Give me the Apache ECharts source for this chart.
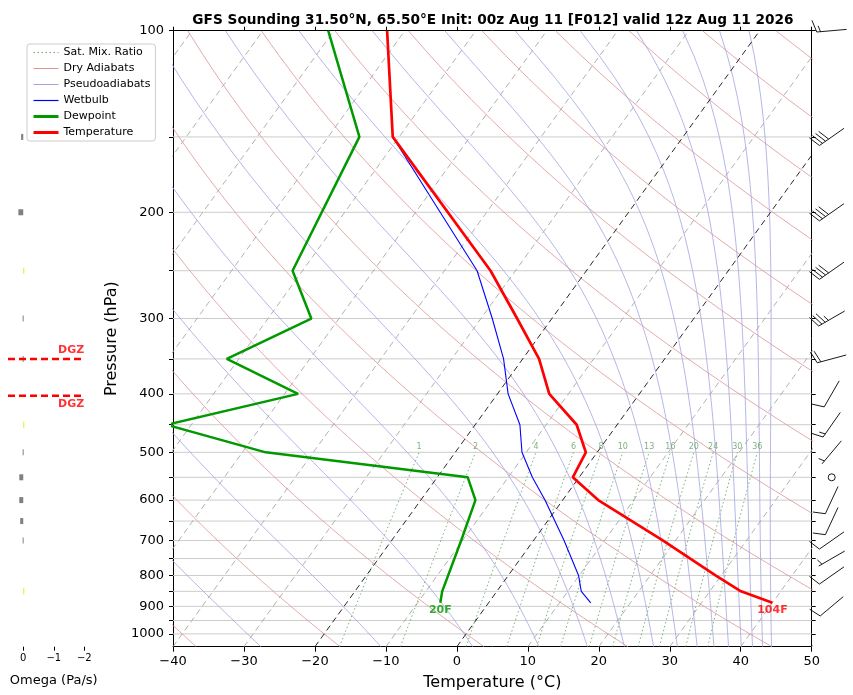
<!DOCTYPE html>
<html>
<head>
<meta charset="utf-8">
<script src="https://cdn.jsdelivr.net/npm/echarts@6/dist/echarts.min.js"></script>
<style>
html, body { margin: 0; padding: 0; background: #fff; }
#chart { width: 853px; height: 695px; }
</style>
</head>
<body>
<div id="chart"></div>
<script>
// sounding values
var tempLevels = [100, 150, 250, 300, 350, 400, 450, 500, 550, 600, 700, 800, 850, 888];
var temp = [-72.5, -60.9, -33.5, -24.9, -17.7, -12.7, -5.7, -1.6, -0.9, 5.0, 18.2, 29.2, 34.4, 40.0];
var dewLevels = [100, 150, 250, 300, 350, 400, 450, 500, 550, 600, 700, 850, 888];
var dew = [-80.8, -65.6, -61.4, -53.9, -61.7, -48.1, -63.5, -46.7, -15.7, -12.3, -10.2, -7.7, -6.8];
var wetLevels = [150, 250, 300, 350, 400, 450, 500, 550, 600, 700, 800, 850, 888];
var wet = [-60.9, -35.4, -28.4, -22.7, -18.5, -13.7, -10.6, -6.6, -2.5, 4.3, 9.9, 11.9, 14.4];

// wind (kt, direction from)
var windLevels = [100, 150, 200, 250, 300, 350, 400, 450, 500, 550, 600, 650, 700, 750, 800, 900];
var windSpd = [15, 40, 40, 40, 35, 20, 10, 15, 5, 0, 10, 10, 10, 5, 10, 10];
var windDir = [265, 235, 235, 235, 240, 255, 210, 215, 220, 0, 205, 205, 235, 240, 235, 230];

// omega (Pa/s)
var omegaLevels = [150, 200, 250, 300, 350, 450, 500, 550, 600, 650, 700, 850];
var omega = [0.07, 0.16, -0.01, 0.02, 0.02, -0.01, 0.02, 0.13, 0.13, 0.1, 0.02, -0.01];
var dgzLevels = [350, 403];

// background line sets
var isoTemps = [-100, -90, -80, -70, -60, -50, -40, -30, -10, 10, 20, 30, 40, 50];
var markTemps = [-20, 0];
var dryThetas = [-40, -20, 0, 20, 40, 60, 80, 100, 120, 140, 160, 180, 200, 220, 240];
var moistThetaE = [-30, -10, 10, 30, 50, 70, 90, 110, 130, 150, 170, 190, 210, 230, 250];
var mixRatios = [1, 2, 4, 6, 8, 10, 13, 16, 20, 24, 30, 36];
var isobars = [150, 200, 250, 300, 350, 400, 450, 500, 550, 600, 650, 700, 750, 800, 850, 900, 950, 1000];
var pLabels = [100, 200, 300, 400, 500, 600, 700, 800, 900, 1000];

var PBOT = 1050, PTOP = 100;
var G = { left: 173, top: 30.7, width: 638.7, height: 616 };
var S = 0.722 * (G.height / Math.log10(PBOT / PTOP)) / (G.width / 90);

function ly(p) { return Math.log10(p); }
function sx(t, p) { return t + S * Math.log10(PBOT / p); }
function minus(v) { return v < 0 ? '\u2212' + (-v) : '' + v; }

var plist = [];
for (var pp = PBOT; pp >= PTOP; pp -= 10) plist.push(pp);

function thetaE(tc, p) {
    var tk = tc + 273.15;
    var es = 6.112 * Math.exp(17.67 * tc / (tc + 243.5));
    if (es > 0.5 * p) return 1e9;
    var r = 622 * es / (p - es);
    return tk * Math.pow(1000 / p, 0.2854 * (1 - 0.00028 * r)) * Math.exp((3.376 / tk - 0.00254) * r * (1 + 0.00081 * r));
}
function moistT(te, p) {
    var lo = -150, hi = 60;
    if (thetaE(hi, p) < te) return null;
    for (var k = 0; k < 50; k++) {
        var mid = (lo + hi) / 2;
        if (thetaE(mid, p) < te) lo = mid; else hi = mid;
    }
    return (lo + hi) / 2;
}
function mixTd(w, p) {
    var e = p * w / (622 + w);
    var g = Math.log(e / 6.112);
    return 243.5 * g / (17.67 - g);
}

var series = [];
function addLine(name, pts, ls, z) {
    series.push({ type: 'line', name: name, data: pts, symbol: 'none', lineStyle: ls, z: z,
        itemStyle: { color: ls.color }, silent: true, clip: true, xAxisIndex: 0, yAxisIndex: 0 });
}

isobars.forEach(function (p) {
    addLine('', [[-40, ly(p)], [50, ly(p)]], { color: '#cccccc', width: 1 }, 1);
});
isoTemps.forEach(function (t) {
    addLine('', [[sx(t, PBOT), ly(PBOT)], [sx(t, PTOP), ly(PTOP)]], { color: '#a8a8a8', width: 0.9, type: [6, 4] }, 2);
});
markTemps.forEach(function (t) {
    addLine('', [[sx(t, PBOT), ly(PBOT)], [sx(t, PTOP), ly(PTOP)]], { color: '#111111', width: 0.9, type: [6, 4] }, 3);
});
mixRatios.forEach(function (w) {
    var pts = [];
    plist.forEach(function (p) { if (p >= 500) pts.push([sx(mixTd(w, p), p), ly(p)]); });
    addLine('Sat. Mix. Ratio', pts, { color: '#4f9a4f', width: 0.9, type: [1.5, 2.5], opacity: 0.85 }, 2);
});
dryThetas.forEach(function (th) {
    var pts = plist.map(function (p) {
        return [sx((th + 273.15) * Math.pow(p / 1000, 0.2857) - 273.15, p), ly(p)];
    });
    addLine('Dry Adiabats', pts, { color: '#dd9494', width: 0.8 }, 2);
});
moistThetaE.forEach(function (te) {
    var pts = [];
    plist.forEach(function (p) {
        var t = moistT(te + 273.15, p);
        if (t !== null) pts.push([sx(t, p), ly(p)]);
    });
    addLine('Pseudoadiabats', pts, { color: '#a3a3e0', width: 0.8 }, 2);
});

addLine('Wetbulb', wetLevels.map(function (p, i) { return [sx(wet[i], p), ly(p)]; }),
    { color: '#0000ff', width: 1.1 }, 6);
addLine('Dewpoint', dewLevels.map(function (p, i) { return [sx(dew[i], p), ly(p)]; }),
    { color: '#009900', width: 2.5 }, 7);
addLine('Temperature', tempLevels.map(function (p, i) { return [sx(temp[i], p), ly(p)]; }),
    { color: '#ff0000', width: 2.7 }, 8);

// mixing ratio labels
series.push({
    type: 'scatter', symbolSize: 0, silent: true, z: 4,
    data: mixRatios.map(function (w) { return [sx(mixTd(w, 500), 500), ly(500), w]; }),
    label: { show: true, position: 'top', distance: 1, color: '#5c9e5c', fontSize: 8,
        formatter: function (p) { return p.value[2]; } }
});

// surface labels in F
var nT = temp.length - 1, nD = dew.length - 1;
function toF(c) { return Math.round(c * 9 / 5 + 32) + 'F'; }
series.push({
    type: 'scatter', symbolSize: 0, silent: true, z: 9,
    data: [
        { value: [sx(temp[nT], tempLevels[nT]), ly(tempLevels[nT])], label: { color: '#ff0000', formatter: toF(temp[nT]) } },
        { value: [sx(dew[nD], dewLevels[nD]), ly(dewLevels[nD])], label: { color: '#009900', formatter: toF(dew[nD]) } }
    ],
    label: { show: true, position: 'bottom', distance: 2, fontSize: 11, fontWeight: 'bold' }
});

// wind barbs
function barb(params, api) {
    var pt = api.coord([api.value(0), api.value(1)]);
    var cx = pt[0] + 20, cy = pt[1];
    var spd = api.value(2), dir = api.value(3);
    var st = { stroke: '#000', lineWidth: 0.9, fill: null };
    if (spd < 2.5) {
        return { type: 'circle', shape: { cx: cx, cy: cy, r: 3.5 }, style: st };
    }
    var L = 30, a = dir * Math.PI / 180;
    var ux = Math.sin(a), uy = -Math.cos(a), px = Math.cos(a), py = Math.sin(a);
    var ex = cx + ux * L / 2, ey = cy + uy * L / 2;
    var kids = [{ type: 'line', shape: { x1: cx - ux * L / 2, y1: cy - uy * L / 2, x2: ex, y2: ey }, style: st }];
    var n = Math.round(spd / 5) * 5;
    var flags = Math.floor(n / 50); n -= flags * 50;
    var full = Math.floor(n / 10); var half = (n - full * 10) >= 5 ? 1 : 0;
    var h = 0.4 * L, sp = 0.125 * L, d = 0;
    for (var i = 0; i < flags; i++) {
        var bx = ex - ux * d, by = ey - uy * d;
        kids.push({ type: 'polygon', shape: { points: [[bx, by], [bx + h * px - ux * 0.125 * L, by + h * py - uy * 0.125 * L], [bx - ux * 0.25 * L, by - uy * 0.25 * L]] }, style: { fill: '#000' } });
        d += 0.25 * L + sp;
    }
    for (var j = 0; j < full; j++) {
        var fx = ex - ux * d, fy = ey - uy * d;
        kids.push({ type: 'line', shape: { x1: fx, y1: fy, x2: fx + h * px + ux * 0.125 * L, y2: fy + h * py + uy * 0.125 * L }, style: st });
        d += sp;
    }
    if (half) {
        if (flags + full === 0) d = sp;
        var hx = ex - ux * d, hy = ey - uy * d;
        kids.push({ type: 'line', shape: { x1: hx, y1: hy, x2: hx + h / 2 * px + ux * 0.0625 * L, y2: hy + h / 2 * py + uy * 0.0625 * L }, style: st });
    }
    return { type: 'group', children: kids };
}
series.push({
    type: 'custom', silent: true, z: 10, clip: false,
    data: windLevels.map(function (p, i) { return [50, ly(p), windSpd[i], windDir[i]]; }),
    renderItem: barb
});

// omega panel
series.push({
    type: 'custom', silent: true, xAxisIndex: 2, yAxisIndex: 2, z: 3,
    data: omegaLevels.map(function (p, i) { return [omega[i], ly(p)]; }),
    renderItem: function (params, api) {
        var a = api.coord([0, api.value(1)]);
        var b = api.coord([api.value(0), api.value(1)]);
        var w = Math.max(Math.abs(b[0] - a[0]), 1);
        return { type: 'rect', shape: { x: Math.min(a[0], b[0]), y: a[1] - 3, width: w, height: 6 },
            style: { fill: api.value(0) >= 0 ? '#808080' : '#e8e810' } };
    }
});
dgzLevels.forEach(function (p, i) {
    series.push({ type: 'line', data: [[0.5, ly(p)], [-1.98, ly(p)]], symbol: 'none', silent: true, z: 5,
        xAxisIndex: 2, yAxisIndex: 2, lineStyle: { color: '#ff0000', width: 2.5, type: [7, 4] } });
    series.push({ type: 'scatter', symbolSize: 0, silent: true, z: 5, xAxisIndex: 2, yAxisIndex: 2,
        data: [[-1.57, ly(p)]],
        label: { show: true, formatter: 'DGZ', position: i === 0 ? 'top' : 'bottom', distance: 3,
            color: '#ff0000', fontWeight: 'bold', fontSize: 11 } });
});

var pTicks = [100].concat(isobars).map(ly);
var blackAxis = { show: true, onZero: false, lineStyle: { color: '#000', width: 1 } };
var noSym = { color: 'rgba(0,0,0,0)', opacity: 0, borderWidth: 0 };

var option = {
    animation: false,
    textStyle: { fontFamily: 'DejaVu Sans' },
    title: {
        text: 'GFS Sounding 31.50\u00b0N, 65.50\u00b0E Init: 00z Aug 11 [F012] valid 12z Aug 11 2026',
        left: 488, top: 8, textAlign: 'center',
        textStyle: { fontSize: 13.7, fontWeight: 'bold', color: '#000', fontFamily: 'DejaVu Sans' }
    },
    legend: {
        orient: 'vertical', left: 27, top: 44, itemWidth: 25, itemHeight: 10, itemGap: 5,
        padding: [3, 5], borderColor: '#cccccc', borderWidth: 1, borderRadius: 3,
        selectedMode: false, backgroundColor: '#fff',
        textStyle: { fontSize: 11, color: '#000', fontFamily: 'DejaVu Sans' },
        data: [
            { name: 'Sat. Mix. Ratio', itemStyle: noSym, lineStyle: { width: 1 } },
            { name: 'Dry Adiabats', itemStyle: noSym, lineStyle: { width: 1 } },
            { name: 'Pseudoadiabats', itemStyle: noSym, lineStyle: { width: 1 } },
            { name: 'Wetbulb', itemStyle: noSym, lineStyle: { width: 1.2 } },
            { name: 'Dewpoint', itemStyle: noSym, lineStyle: { width: 3 } },
            { name: 'Temperature', itemStyle: noSym, lineStyle: { width: 3 } }
        ]
    },
    grid: [
        { left: G.left, top: G.top, width: G.width, height: G.height, outerBoundsMode: 'none' },
        { left: 8, top: G.top, width: 91.5, height: G.height, outerBoundsMode: 'none' }
    ],
    xAxis: [
        { type: 'value', gridIndex: 0, min: -40, max: 50, interval: 10, position: 'bottom',
          axisLine: blackAxis, splitLine: { show: false },
          axisTick: { show: true, inside: false, length: 5, lineStyle: { color: '#000' } },
          axisLabel: { fontSize: 13, color: '#000', margin: 8, formatter: minus },
          name: 'Temperature (\u00b0C)', nameLocation: 'middle', nameGap: 28,
          nameTextStyle: { fontSize: 16, color: '#000', verticalAlign: 'top' } },
        { type: 'value', gridIndex: 0, min: -40, max: 50, interval: 10, position: 'top',
          axisLine: blackAxis, splitLine: { show: false },
          axisTick: { show: true, inside: false, length: 4, lineStyle: { color: '#000' } },
          axisLabel: { show: false } },
        { type: 'value', gridIndex: 1, min: -2.5, max: 0.5, inverse: true, position: 'bottom',
          axisLine: { show: false, onZero: false }, splitLine: { show: false },
          axisTick: { show: true, length: 4, customValues: [0, -1, -2], lineStyle: { color: '#000' } },
          axisLabel: { fontSize: 10, color: '#000', margin: 7, customValues: [0, -1, -2], formatter: minus },
          name: 'Omega (Pa/s)', nameLocation: 'middle', nameGap: 27,
          nameTextStyle: { fontSize: 13, color: '#000', verticalAlign: 'top' } }
    ],
    yAxis: [
        { type: 'value', gridIndex: 0, min: ly(PTOP), max: ly(PBOT), inverse: true, position: 'left',
          axisLine: blackAxis, splitLine: { show: false },
          axisTick: { show: true, length: 4, customValues: pTicks, lineStyle: { color: '#000' } },
          axisLabel: { fontSize: 13, color: '#000', margin: 9, customValues: pLabels.map(ly),
              formatter: function (v) { return Math.round(Math.pow(10, v)); } },
          name: 'Pressure (hPa)', nameLocation: 'middle', nameGap: 48, nameRotate: 90,
          nameTextStyle: { fontSize: 16, color: '#000' } },
        { type: 'value', gridIndex: 0, min: ly(PTOP), max: ly(PBOT), inverse: true, position: 'right',
          axisLine: blackAxis, splitLine: { show: false },
          axisTick: { show: true, length: 4, customValues: pTicks, lineStyle: { color: '#000' } },
          axisLabel: { show: false } },
        { type: 'value', gridIndex: 1, min: ly(PTOP), max: ly(PBOT), inverse: true, show: false,
          axisLine: { onZero: false } }
    ],
    series: series
};

var chart = echarts.init(document.getElementById('chart'));
chart.setOption(option);
</script>
</body>
</html>
